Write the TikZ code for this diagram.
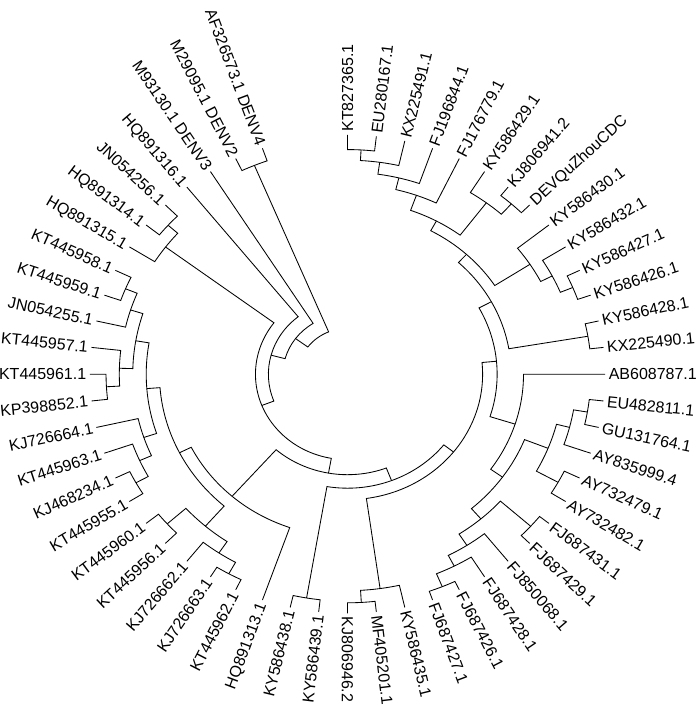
\documentclass[tikz,border=0pt]{standalone}
\usepackage{fontspec}
\setmainfont{Liberation Sans}
\tikzset{
  br/.style={draw=black, line width=0.85pt, line join=miter},
  lab/.style={font=\fontsize{16}{16}\selectfont, inner sep=0pt, text height=11.4pt, text depth=0pt}
}
% internal node: radius, first child angle, first child radius, second child angle, second child radius
\newcommand\nd[5]{\draw[br] (#2:#3pt) -- (#2:#1pt) arc[start angle=#2, end angle=#4, radius=#1pt] -- (#4:#5pt);}
% leaf label: angle, name, text
\newcommand\lf[3]{%
  \pgfmathsetmacro\lfal{atan2(sin(#1),1.0765*cos(#1))}%
  \pgfmathsetmacro\lfcs{cos(#1)}%
  \ifdim\lfcs pt<-0.01pt
    \pgfmathsetmacro\lfrot{\lfal+180}%
    \node[lab,anchor=east,rotate=\lfrot] (#2) at (#1:242.5pt) {#3};%
  \else
    \node[lab,anchor=west,rotate=\lfal] (#2) at (#1:242.5pt) {#3};%
  \fi}
\begin{document}
\begin{tikzpicture}[x=1pt,y=1pt]
\useasboundingbox (0,0) rectangle (700,711);
\begin{scope}[shift={(347.5,336.8)}, xscale=1.0765]
% ---- branches ----
\nd{224.6}{90}{239.3}{83.5714}{239.3}
\nd{214}{86.7857}{224.6}{77.1429}{239.3}
\nd{202}{81.9643}{214}{70.7143}{239.3}
\nd{190}{76.3393}{202}{64.2857}{239.3}
\nd{228.4}{51.4286}{239.3}{45}{239.3}
\nd{214.5}{57.8571}{239.3}{48.2143}{228.4}
\nd{174}{70.3125}{190}{53.0357}{214.5}
\nd{226.5}{25.7143}{239.3}{19.2857}{239.3}
\nd{214}{32.1429}{239.3}{22.5}{226.5}
\nd{202}{38.5714}{239.3}{27.3214}{214}
\nd{163}{61.6741}{174}{32.9464}{202}
\nd{226.5}{12.8571}{239.3}{6.4286}{239.3}
\nd{152}{47.3103}{163}{9.6429}{226.5}
\nd{226}{-6.4286}{239.3}{-12.8571}{239.3}
\nd{213}{-9.6429}{226}{-19.2857}{239.3}
\nd{223.5}{-25.7143}{239.3}{-32.1429}{239.3}
\nd{200.5}{-14.4643}{213}{-28.9286}{223.5}
\nd{228.2}{-38.5714}{239.3}{-45}{239.3}
\nd{230}{-64.2857}{239.3}{-70.7143}{239.3}
\nd{216}{-57.8571}{239.3}{-67.5}{230}
\nd{204}{-51.4286}{239.3}{-62.6786}{216}
\nd{190.5}{-41.7857}{228.2}{-57.0536}{204}
\nd{177}{-21.6964}{200.5}{-49.4196}{190.5}
\nd{163.5}{0}{239.3}{-35.558}{177}
\nd{139}{28.4766}{152}{-17.779}{163.5}
\nd{228.6}{-83.5714}{239.3}{-90}{239.3}
\nd{216.5}{-77.1429}{239.3}{-86.7857}{228.6}
\nd{125.5}{5.3488}{139}{-81.9643}{216.5}
\nd{227}{-96.4286}{239.3}{-102.8571}{239.3}
\nd{114}{-38.3078}{125.5}{-99.6429}{227}
\nd{228}{-115.7143}{239.3}{-122.1429}{239.3}
\nd{215}{-118.9286}{228}{-128.5714}{239.3}
\nd{224.6}{-135}{239.3}{-141.4286}{239.3}
\nd{201.3}{-123.75}{215}{-138.2143}{224.6}
\nd{224.5}{-147.8571}{239.3}{-154.2857}{239.3}
\nd{211.5}{-151.0714}{224.5}{-160.7143}{239.3}
\nd{199.5}{-155.8929}{211.5}{-167.1429}{239.3}
\nd{224.3}{-173.5714}{239.3}{-180}{239.3}
\nd{212}{-176.7857}{224.3}{-186.4286}{239.3}
\nd{223.2}{-199.2857}{239.3}{-205.7143}{239.3}
\nd{211.5}{-192.8571}{239.3}{-202.5}{223.2}
\nd{199.5}{-181.6071}{212}{-197.6786}{211.5}
\nd{187}{-161.5179}{199.5}{-189.6429}{199.5}
\nd{174.7}{-130.9821}{201.3}{-175.5804}{187}
\nd{162.5}{-109.2857}{239.3}{-153.2813}{174.7}
\nd{100.5}{-68.9754}{114}{-131.2835}{162.5}
\nd{223.5}{-218.5714}{239.3}{-225}{239.3}
\nd{211.5}{-212.1429}{239.3}{-221.7857}{223.5}
\nd{85.5}{-100.1295}{100.5}{-216.9643}{211.5}
\nd{73.5}{-158.5469}{85.5}{-231.4286}{239.3}
\nd{60}{-194.9877}{73.5}{-237.8571}{239.3}
\nd{226}{-244.2857}{239.3}{-250.7143}{239.3}
\nd{45.8}{-216.4224}{60}{-247.5}{226}
% ---- labels ----
\lf{90}{l1}{KT827365.1}
\lf{83.5714}{l2}{EU280167.1}
\lf{77.1429}{l3}{KX225491.1}
\lf{70.7143}{l4}{FJ196844.1}
\lf{64.2857}{l5}{FJ176779.1}
\lf{57.8571}{l6}{KY586429.1}
\lf{51.4286}{l7}{KJ806941.2}
\lf{45}{l8}{DEVQuZhouCDC}
\lf{38.5714}{l9}{KY586430.1}
\lf{32.1429}{l10}{KY586432.1}
\lf{25.7143}{l11}{KY586427.1}
\lf{19.2857}{l12}{KY586426.1}
\lf{12.8571}{l13}{KY586428.1}
\lf{6.4286}{l14}{KX225490.1}
\lf{0}{l15}{AB608787.1}
\lf{-6.4286}{l16}{EU482811.1}
\lf{-12.8571}{l17}{GU131764.1}
\lf{-19.2857}{l18}{AY835999.4}
\lf{-25.7143}{l19}{AY732479.1}
\lf{-32.1429}{l20}{AY732482.1}
\lf{-38.5714}{l21}{FJ687431.1}
\lf{-45}{l22}{FJ687429.1}
\lf{-51.4286}{l23}{FJ850068.1}
\lf{-57.8571}{l24}{FJ687428.1}
\lf{-64.2857}{l25}{FJ687426.1}
\lf{-70.7143}{l26}{FJ687427.1}
\lf{-77.1429}{l27}{KY586435.1}
\lf{-83.5714}{l28}{MF405201.1}
\lf{-90}{l29}{KJ806946.2}
\lf{-96.4286}{l30}{KY586439.1}
\lf{-102.8571}{l31}{KY586438.1}
\lf{-109.2857}{l32}{HQ891313.1}
\lf{-115.7143}{l33}{KT445962.1}
\lf{-122.1429}{l34}{KJ726663.1}
\lf{-128.5714}{l35}{KJ726662.1}
\lf{-135}{l36}{KT445956.1}
\lf{-141.4286}{l37}{KT445960.1}
\lf{-147.8571}{l38}{KT445955.1}
\lf{-154.2857}{l39}{KJ468234.1}
\lf{-160.7143}{l40}{KT445963.1}
\lf{-167.1429}{l41}{KJ726664.1}
\lf{-173.5714}{l42}{KP398852.1}
\lf{-180}{l43}{KT445961.1}
\lf{-186.4286}{l44}{KT445957.1}
\lf{-192.8571}{l45}{JN054255.1}
\lf{-199.2857}{l46}{KT445959.1}
\lf{-205.7143}{l47}{KT445958.1}
\lf{-212.1429}{l48}{HQ891315.1}
\lf{-218.5714}{l49}{HQ891314.1}
\lf{-225}{l50}{JN054256.1}
\lf{-231.4286}{l51}{HQ891316.1}
\lf{-237.8571}{l52}{M93130.1 DENV3}
\lf{-244.2857}{l53}{M29095.1 DENV2}
\lf{-250.7143}{l54}{AF326573.1 DENV4}
\end{scope}
\end{tikzpicture}
\end{document}
